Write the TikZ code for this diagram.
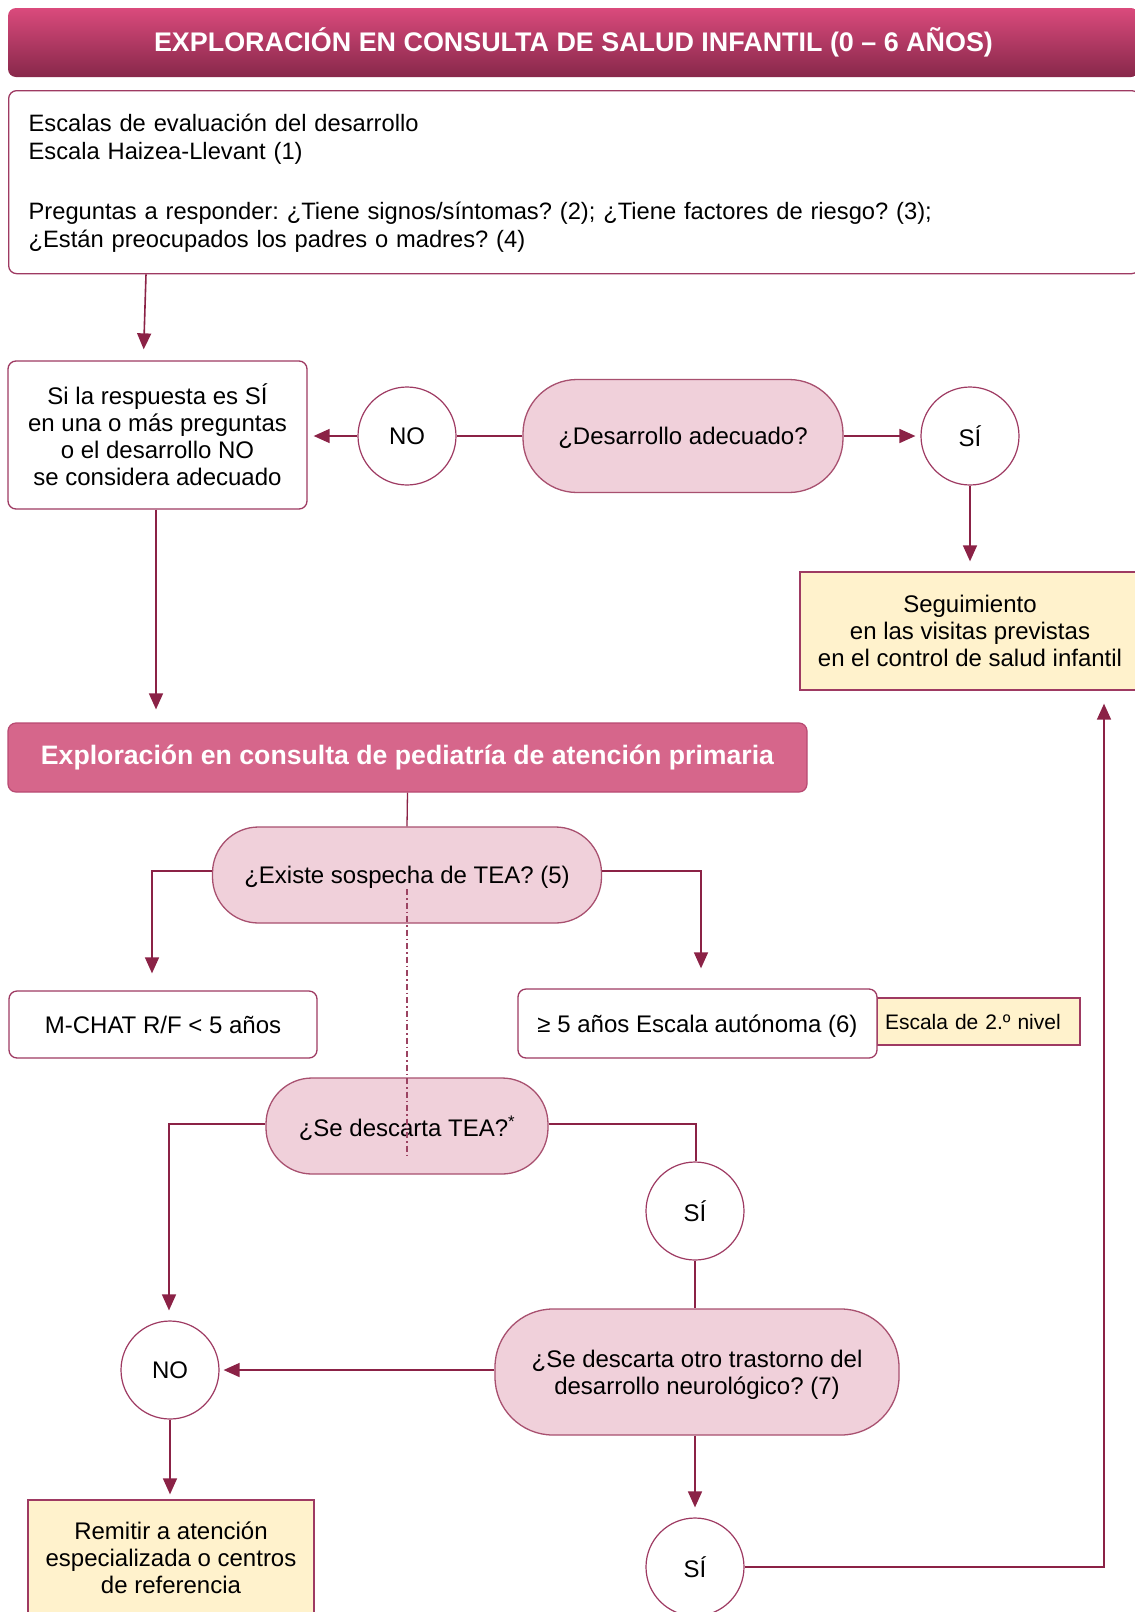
\documentclass[tikz,border=0pt]{standalone}
\usepackage{fontspec}
\setmainfont{Liberation Sans}
\usetikzlibrary{arrows.meta,calc}
\definecolor{lc}{HTML}{8B2246}
\definecolor{bc}{HTML}{9E3A62}
\definecolor{pf}{HTML}{F0D0DA}
\definecolor{pb}{HTML}{A8506F}
\definecolor{pk}{HTML}{D6668B}
\definecolor{pkb}{HTML}{B84A72}
\definecolor{yf}{HTML}{FFF2CC}
\definecolor{tt}{HTML}{DA4A7C}
\definecolor{tb}{HTML}{87284A}
\tikzset{
  txt/.style={font=\fontsize{24}{27}\selectfont, inner sep=0pt, align=center},
  wbox/.style={txt, draw=bc, fill=white, line width=1.3pt, rounded corners=8pt},
  ybox/.style={txt, draw=bc, fill=yf, line width=1.3pt},
  pill/.style={txt, draw=pb, fill=pf, line width=1.3pt},
  circ/.style={txt, circle, draw=bc, fill=white, line width=1.2pt, minimum size=98pt},
  arr/.style={draw=lc, line width=1.6pt, -{Triangle[length=16pt,width=14pt]}},
  ln/.style={draw=lc, line width=1.3pt},
  nodepth/.style={text depth=0pt},
  dd/.style={draw=lc!85!white, line width=1.2pt, dash pattern=on 6pt off 3pt on 1.5pt off 3pt},
}
\begin{document}
\frenchspacing
\begin{tikzpicture}[x=1pt,y=-1pt]
\useasboundingbox (0,0) rectangle (1135,1612);
\clip (0,0) rectangle (1135,1612);

% title
\node[rectangle, rounded corners=8pt, minimum width=1131pt, minimum height=69pt,
      top color=tt, bottom color=tb, draw=none, text=white, inner sep=0pt,
      font=\bfseries\fontsize{26.9}{30}\selectfont] (title) at (573.5,42.5)
      {EXPLORACIÓN EN CONSULTA DE SALUD INFANTIL (0 – 6 AÑOS)};

% top box
\node[wbox, anchor=north west, minimum width=1131pt, minimum height=183pt,
      text width=1091pt, inner xsep=20pt, align=left,
      font=\fontsize{23.7}{28.5}\selectfont] (box1) at (8,90)
  {\rule{0pt}{20pt}Escalas de evaluación del desarrollo\\
   Escala Haizea-Llevant (1)\\[31pt]
   Preguntas a responder: ¿Tiene signos/síntomas? (2); ¿Tiene factores de riesgo? (3);\\
   ¿Están preocupados los padres o madres? (4)};

% row 2
\node[wbox, minimum width=299pt, minimum height=148pt] (box2) at (157.5,435)
  {Si la respuesta es SÍ\\en una o más preguntas\\o el desarrollo NO\\se considera adecuado};
\node[circ] (no1) at (407,436) {NO};
\node[pill, nodepth, rounded corners=54pt, minimum width=320pt, minimum height=113pt] (pill1) at (683,436)
  {¿Desarrollo adecuado?};
\node[circ] (si1) at (970,436) {SÍ};
\node[ybox, minimum width=340pt, minimum height=118pt] (seg) at (970,631)
  {Seguimiento\\en las visitas previstas\\en el control de salud infantil};

% pink box
\node[rectangle, rounded corners=8pt, draw=pkb, fill=pk, line width=1.2pt,
      minimum width=799pt, minimum height=69pt, text=white, inner sep=0pt,
      font=\bfseries\fontsize{26.65}{30}\selectfont] (pinkbox) at (407.5,757.5)
  {Exploración en consulta de pediatría de atención primaria};

% TEA suspicion
\node[pill, nodepth, rounded corners=46pt, minimum width=389pt, minimum height=96pt] (pill2) at (407,875)
  {¿Existe sospecha de TEA? (5)};
\node[wbox, minimum width=308pt, minimum height=67pt] (mchat) at (163,1024.5)
  {M-CHAT R/F < 5 años};
\node[ybox, minimum width=203pt, minimum height=47pt, text width=187pt, inner xsep=8pt,
      align=left, font=\fontsize{21}{24}\selectfont] (esc2) at (978.5,1021.5)
  {Escala de 2.º nivel};
\node[wbox, nodepth, minimum width=359pt, minimum height=69pt] (auto) at (697.5,1023.5)
  {≥ 5 años Escala autónoma (6)};

\node[pill, nodepth, rounded corners=46pt, minimum width=282pt, minimum height=96pt] (tea) at (407,1126)
  {¿Se descarta TEA?\textsuperscript{*}};

% dash-dot line
\draw[dd] ([yshift=-14pt]pill2.center) -- ([yshift=-31pt]tea.center);

\node[circ] (si2) at (695,1211) {SÍ};
\node[circ] (no2) at (170,1370) {NO};
\node[pill, nodepth, rounded corners=58pt, minimum width=404pt, minimum height=126pt] (pill3) at (697,1372)
  {¿Se descarta otro trastorno del\\desarrollo neurológico? (7)};
\node[ybox, minimum width=286pt, minimum height=116pt] (rem) at (171,1558)
  {Remitir a atención\\especializada o centros\\de referencia};
\node[circ] (si3) at (695,1567) {SÍ};

% connectors
\draw[arr, shorten >=11pt] ([xshift=138pt]box1.south west) -- ([xshift=136pt]box2.north west);
\draw[ln] (pill1.west) -- (no1.east);
\draw[arr, shorten >=6pt] (no1.west) -- (box2.east |- no1.west);
\draw[arr, shorten >=5pt] (pill1.east) -- (si1.west);
\draw[arr, shorten >=10pt] (si1.south) -- (seg.north);
\draw[arr, shorten >=13pt] ([xshift=-1.5pt]box2.south) -- ([xshift=-1.5pt]box2.south |- pinkbox.north);
\draw[ln] (pinkbox.south) -- (pill2.north);
\draw[arr, shorten >=17pt] ([yshift=4pt]pill2.west) -| ([xshift=-11pt]mchat.north);
\draw[arr, shorten >=20pt] ([yshift=4pt]pill2.east) -| ([xshift=3.5pt]auto.north);
\draw[arr, shorten >=10pt] ([yshift=2pt]tea.west) -| ([xshift=-1pt]no2.north);
\draw[ln] ([yshift=2pt]tea.east) -| ([xshift=1pt]si2.north);
\draw[ln] (si2.south) -- (si2.south |- pill3.north);
\draw[arr, shorten >=4pt] ([yshift=2pt]pill3.west) -- (no2.east);
\draw[arr, shorten >=5pt] (no2.south) -- (no2.south |- rem.north);
\draw[arr, shorten >=10pt] (si3.north |- pill3.south) -- (si3.north);
\draw[arr, shorten >=13pt] (si3.east) -| ([xshift=134pt]seg.south);
\end{tikzpicture}
\end{document}
